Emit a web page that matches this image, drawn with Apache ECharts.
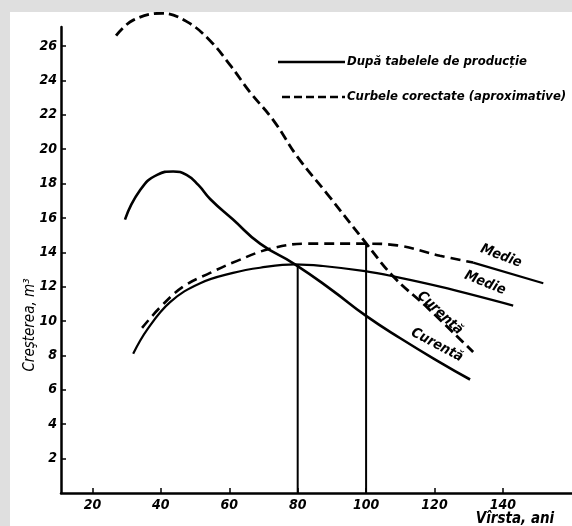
<!DOCTYPE html>
<html><head><meta charset="utf-8">
<script src="https://cdn.jsdelivr.net/npm/echarts@6/dist/echarts.min.js"></script>
<style>
html,body{margin:0;padding:0;background:#dfdfdf;width:572px;height:526px;overflow:hidden}
#c{position:absolute;left:10px;top:12px;width:562px;height:514px;background:#fff}
</style></head>
<body><div id="c"></div>
<script>
// ---- data ----
const xTicks = [20, 40, 60, 80, 100, 120, 140];
const yTicks = [2, 4, 6, 8, 10, 12, 14, 16, 18, 20, 22, 24, 26];

// Curentă, după tabelele de producție (solid)
const curSolidAge = [29.5, 33.9, 38.9, 43.6, 47.5, 51.0, 54.4, 61.1, 69.0, 79.2, 90, 100, 110, 121.6, 130.4];
const curSolidVal = [15.9, 17.6, 18.5, 18.7, 18.5, 17.9, 17.1, 15.9, 14.5, 13.3, 11.8, 10.3, 9.0, 7.6, 6.6];

// Medie, după tabelele de producție (solid)
const medSolidAge = [31.9, 36.0, 42.7, 51.5, 61.1, 69.0, 79.2, 87.4, 99.7, 107.9, 121.6, 143];
const medSolidVal = [8.1, 9.5, 11.1, 12.2, 12.8, 13.1, 13.3, 13.2, 12.9, 12.6, 12.0, 10.9];

// Curentă, curbe corectate (dashed)
const curDashAge = [26.9, 31.9, 40.4, 47.7, 54.4, 60.2, 66.1, 72.8, 80.1, 88.6, 99.7, 107.9, 117.8, 131.3];
const curDashVal = [26.6, 27.5, 27.9, 27.4, 26.3, 24.9, 23.3, 21.7, 19.5, 17.4, 14.6, 12.6, 10.8, 8.2];

// Medie, curbe corectate (dashed) + solid tail
const medDashAge = [34.5, 39.8, 46.5, 54.4, 62.3, 71.9, 82.7, 99.7, 109.1, 121.6, 131.3];
const medDashVal = [9.6, 10.8, 12.0, 12.8, 13.5, 14.2, 14.5, 14.5, 14.4, 13.8, 13.4];
const medTailAge = [131.3, 151.8];
const medTailVal = [13.4, 12.2];

// vertical reference lines (culmination ages)
const vertAges = [80, 100];
const vertTops = [13.3, 14.5];

const legendTexts = ['După tabelele de producție', 'Curbele corectate (aproximative)'];
const yName = 'Creşterea, m³';
const xName = 'Vîrsta, ani';

// ---- chart ----
const zip = (a, b) => a.map((v, i) => [v, b[i]]);
const FONT = "'Liberation Sans Narrow','DejaVu Sans Condensed','Liberation Sans',sans-serif";
const lblStyle = {fontFamily: FONT, fontStyle: 'italic', fontWeight: 'bold', fontSize: 14, color: '#000'};

const chart = echarts.init(document.getElementById('c'), null, {renderer: 'canvas'});

const defs = [
  {data: zip(curSolidAge, curSolidVal), ls: {width: 2.6}, smooth: 0.5},
  {data: zip(medSolidAge, medSolidVal), ls: {width: 2.2}, smooth: 0.4},
  {data: zip(curDashAge, curDashVal), ls: {width: 2.8, type: [10, 5]}, smooth: 0.4},
  {data: zip(medDashAge, medDashVal), ls: {width: 2.6, type: [10, 6]}, smooth: 0.4},
  {data: zip(medTailAge, medTailVal), ls: {width: 2.2}, smooth: false}
];
const series = defs.map(d => ({
  type: 'line', smooth: d.smooth, showSymbol: false, clip: false, silent: true,
  data: d.data, lineStyle: Object.assign({color: '#000'}, d.ls)
}));

vertAges.forEach((a, i) => series.push({
  type: 'line', showSymbol: false, silent: true,
  data: [[a, 0], [a, vertTops[i]]],
  lineStyle: {color: '#000', width: 2}
}));

chart.setOption({
  animation: false,
  backgroundColor: '#fff',
  grid: {left: 51, top: 15, right: 0, bottom: 33},
  xAxis: {
    type: 'value', min: 10.8, max: 160.2,
    splitLine: {show: false},
    axisLine: {lineStyle: {color: '#000', width: 2.5}},
    axisTick: {inside: true, length: 5, lineStyle: {color: '#000', width: 1.5}, customValues: xTicks},
    axisLabel: Object.assign({margin: 5, customValues: xTicks}, lblStyle)
  },
  yAxis: {
    type: 'value', min: 0, max: 27.1, interval: 2,
    splitLine: {show: false},
    axisLine: {show: true, lineStyle: {color: '#000', width: 2.5}},
    axisTick: {inside: true, length: 5, lineStyle: {color: '#000', width: 1.5}, customValues: yTicks},
    axisLabel: Object.assign({margin: 4, customValues: yTicks}, lblStyle)
  },
  series: series,
  graphic: [
    {type: 'line', shape: {x1: 268, y1: 50, x2: 335, y2: 50}, style: {stroke: '#000', lineWidth: 2.5}},
    {type: 'line', shape: {x1: 272, y1: 85, x2: 335, y2: 85}, style: {stroke: '#000', lineWidth: 2.5, lineDash: [8, 4]}},
    {type: 'text', x: 337, y: 50, style: {text: legendTexts[0], font: "italic bold 13px " + FONT, fill: '#000', verticalAlign: 'middle'}},
    {type: 'text', x: 337, y: 85, style: {text: legendTexts[1], font: "italic bold 13px " + FONT, fill: '#000', verticalAlign: 'middle'}},
    {type: 'text', x: 20, y: 313, rotation: Math.PI / 2, style: {text: yName, font: "italic 15px " + FONT, fill: '#000', align: 'center', verticalAlign: 'middle'}},
    {type: 'text', x: 505, y: 500, style: {text: xName, font: "italic bold 15px " + FONT, fill: '#000', align: 'center', verticalAlign: 'top'}},
    {type: 'text', x: 491, y: 244, rotation: -21 * Math.PI / 180, style: {text: 'Medie', font: "italic bold 14px " + FONT, fill: '#000', align: 'center', verticalAlign: 'middle'}},
    {type: 'text', x: 475, y: 271, rotation: -22 * Math.PI / 180, style: {text: 'Medie', font: "italic bold 14px " + FONT, fill: '#000', align: 'center', verticalAlign: 'middle'}},
    {type: 'text', x: 430, y: 301, rotation: -43 * Math.PI / 180, style: {text: 'Curentă', font: "italic bold 14px " + FONT, fill: '#000', align: 'center', verticalAlign: 'middle'}},
    {type: 'text', x: 427, y: 333, rotation: -28 * Math.PI / 180, style: {text: 'Curentă', font: "italic bold 14px " + FONT, fill: '#000', align: 'center', verticalAlign: 'middle'}}
  ]
});
</script></body></html>
